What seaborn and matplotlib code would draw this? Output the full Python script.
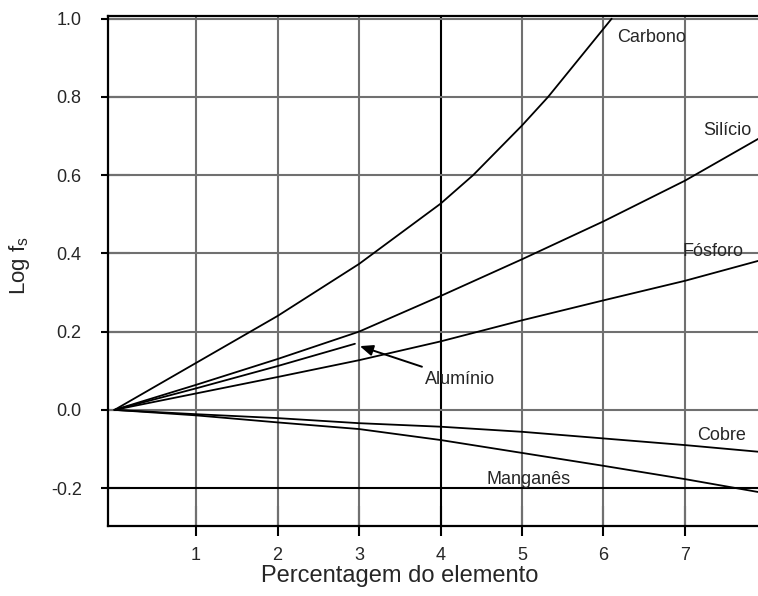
import matplotlib
matplotlib.use("Agg")
import matplotlib.pyplot as plt
import seaborn as sns
import pandas as pd

# ---- data ----
carbono_x = [0, 1, 2, 3, 4, 4.4, 5, 5.32, 6.1]
carbono_y = [0, 0.12, 0.24, 0.373, 0.527, 0.60, 0.727, 0.80, 1.0]
silicio_x = [0, 1, 2, 3, 4, 5, 6, 7, 7.9]
silicio_y = [0, 0.064, 0.130, 0.200, 0.291, 0.385, 0.482, 0.586, 0.693]
fosforo_x = [0, 1, 2, 3, 4, 5, 6, 7, 7.9]
fosforo_y = [0, 0.042, 0.084, 0.127, 0.175, 0.229, 0.280, 0.330, 0.381]
aluminio_x = [0, 1, 2, 2.95]
aluminio_y = [0, 0.055, 0.112, 0.169]
cobre_x = [0, 1, 2, 3, 4, 5, 6, 7, 7.9]
cobre_y = [0, -0.011, -0.021, -0.034, -0.043, -0.056, -0.073, -0.090, -0.107]
manganes_x = [0, 1, 2, 3, 4, 5, 6, 7, 7.9]
manganes_y = [0, -0.014, -0.032, -0.049, -0.077, -0.110, -0.143, -0.177, -0.210]

x_ticks = [1, 2, 3, 4, 5, 6, 7]
y_ticks = [1.0, 0.8, 0.6, 0.4, 0.2, 0.0, -0.2]
y_tick_labels = ["1.0", "0.8", "0.6", "0.4", "0.2", "0.0", "-0.2"]
x_label = "Percentagem do elemento"
y_label = r"Log f$_\mathrm{s}$"

series = {
    "Carbono": (carbono_x, carbono_y),
    "Silício": (silicio_x, silicio_y),
    "Fósforo": (fosforo_x, fosforo_y),
    "Alumínio": (aluminio_x, aluminio_y),
    "Cobre": (cobre_x, cobre_y),
    "Manganês": (manganes_x, manganes_y),
}
rows = []
for name, (xs, ys) in series.items():
    for xv, yv in zip(xs, ys):
        rows.append({"elemento": name, "pct": xv, "logfs": yv})
df = pd.DataFrame(rows)

# ---- style ----
sns.set_theme(style="white")
plt.rcParams["font.family"] = ["Liberation Sans", "DejaVu Sans"]
plt.rcParams["mathtext.fontset"] = "custom"
plt.rcParams["mathtext.rm"] = "Liberation Sans"
plt.rcParams["mathtext.it"] = "Liberation Sans:italic"

fig = plt.figure(figsize=(7.58, 5.96), dpi=100)
ax = fig.add_axes([0.1425, 0.118, 1.0 - 0.1425, 0.9732 - 0.118])

grid_col = "#707070"
for xv in x_ticks:
    ax.axvline(xv, color="black" if xv == 4 else grid_col, lw=1.5, zorder=1)
for yv in y_ticks:
    ax.axhline(yv, color="black" if yv == -0.2 else grid_col, lw=1.5, zorder=1)

sns.lineplot(data=df, x="pct", y="logfs", hue="elemento",
             palette={k: "black" for k in series}, legend=False,
             linewidth=1.3, ax=ax, zorder=3, estimator=None, sort=True)

ax.set_xlim(-0.08, 7.896)
ax.set_ylim(-0.296, 1.007)

for s in ["left", "top", "bottom"]:
    ax.spines[s].set_visible(True)
    ax.spines[s].set_color("black")
    ax.spines[s].set_linewidth(1.6)
ax.spines["right"].set_visible(False)

ax.set_xticks(x_ticks)
ax.set_xticklabels([str(v) for v in x_ticks])
ax.set_yticks(y_ticks)
ax.set_yticklabels(y_tick_labels)
ax.set_xticks(x_ticks, minor=True)
ax.set_yticks(y_ticks, minor=True)
ax.xaxis.remove_overlapping_locs = False
ax.yaxis.remove_overlapping_locs = False
ax.tick_params(axis="x", which="major", direction="in", length=14.5, width=1.5,
               color="black", labelsize=13, pad=15, bottom=True)
ax.tick_params(axis="x", which="minor", direction="out", length=7, width=1.5,
               color="black", bottom=True)
ax.tick_params(axis="y", which="major", direction="in", length=15.5, width=1.5,
               color="black", labelsize=13, pad=19, left=True)
ax.tick_params(axis="y", which="minor", direction="out", length=5, width=1.5,
               color="black", left=True)

ax.set_xlabel(x_label, fontsize=17)
ax.xaxis.set_label_coords(0.449, -0.078)
ax.set_ylabel(y_label, fontsize=16)
ax.yaxis.set_label_coords(-0.117, 0.511)

lab_fs = 13
ax.text(6.17, 0.951, "Carbono", fontsize=lab_fs, ha="left", va="center", zorder=4)
ax.text(7.22, 0.714, "Silício", fontsize=lab_fs, ha="left", va="center", zorder=4)
ax.text(6.97, 0.406, "Fósforo", fontsize=lab_fs, ha="left", va="center", zorder=4)
ax.text(7.15, -0.066, "Cobre", fontsize=lab_fs, ha="left", va="center", zorder=4)
ax.text(4.56, -0.177, "Manganês", fontsize=lab_fs, ha="left", va="center", zorder=4)
ax.annotate("Alumínio", xy=(3.01, 0.163), xytext=(3.81, 0.078),
            fontsize=lab_fs, ha="left", va="center", zorder=4,
            arrowprops=dict(arrowstyle="-|>,head_length=0.6,head_width=0.25",
                            color="black", lw=1.4, shrinkA=2, shrinkB=0))

fig.savefig("out.png", dpi=100)
